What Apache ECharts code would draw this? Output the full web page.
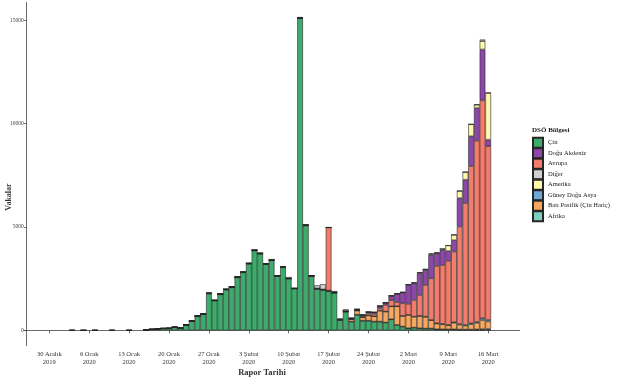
<!DOCTYPE html>
<html><head><meta charset="utf-8">
<script src="https://cdn.jsdelivr.net/npm/echarts@6/dist/echarts.min.js"></script>
<style>html,body{margin:0;padding:0;background:#fff}#c{width:642px;height:389px}</style>
</head><body><div id="c"></div>
<script>
// Report dates (days with a bar)
const dates = ['2020-01-03','2020-01-05','2020-01-07','2020-01-10','2020-01-13',
'2020-01-16','2020-01-17','2020-01-18','2020-01-19','2020-01-20','2020-01-21','2020-01-22','2020-01-23','2020-01-24','2020-01-25','2020-01-26','2020-01-27','2020-01-28','2020-01-29','2020-01-30','2020-01-31',
'2020-02-01','2020-02-02','2020-02-03','2020-02-04','2020-02-05','2020-02-06','2020-02-07','2020-02-08','2020-02-09','2020-02-10','2020-02-11','2020-02-12','2020-02-13','2020-02-14','2020-02-15','2020-02-16','2020-02-17','2020-02-18','2020-02-19','2020-02-20','2020-02-21','2020-02-22','2020-02-23','2020-02-24','2020-02-25','2020-02-26','2020-02-27','2020-02-28','2020-02-29',
'2020-03-01','2020-03-02','2020-03-03','2020-03-04','2020-03-05','2020-03-06','2020-03-07','2020-03-08','2020-03-09','2020-03-10','2020-03-11','2020-03-12','2020-03-13','2020-03-14','2020-03-15','2020-03-16'];

const cin = [0,0,0,0,0,
30,50,70,95,100,150,120,260,450,680,780,1780,1440,1740,1970,2080,
2560,2800,3220,3860,3700,3200,3380,2630,3050,2500,2020,15090,5070,2620,2000,1960,1900,1810,500,900,425,760,470,470,425,425,380,540,265,
185,105,135,105,90,90,55,50,45,40,30,25,20,20,20,30];

const afrika = [0,0,0,0,0,
0,0,0,0,0,0,0,0,0,0,0,0,0,0,0,0,
0,0,0,0,0,0,0,0,0,0,0,0,0,0,0,0,0,0,0,0,0,0,0,0,0,0,0,0,0,
0,0,0,0,0,0,0,0,0,10,10,15,20,30,40,40];

const batiPasifik = [0,0,0,0,0,
0,0,0,0,0,3,2,5,10,10,10,15,12,20,15,20,
20,15,20,15,25,30,25,20,35,15,10,15,20,20,30,20,25,30,30,40,120,200,170,250,260,530,530,620,900,
515,645,530,595,565,405,270,245,205,320,240,190,260,315,440,360];

const guneyDoguAsya = [0,0,0,0,0,
0,0,0,0,0,0,0,0,0,0,0,0,0,0,0,0,
0,0,0,0,0,0,0,0,0,0,0,0,0,0,0,0,0,0,0,0,0,0,0,0,0,0,0,0,0,
0,0,0,0,10,10,20,20,15,20,30,40,45,45,90,75];

const avrupa = [0,0,0,0,0,
0,0,0,0,0,0,0,0,0,0,0,0,0,0,0,0,
0,0,0,0,0,0,0,0,0,0,0,0,0,0,0,0,3050,0,0,0,20,30,60,100,110,115,320,300,200,
610,530,805,1010,1530,2010,2765,2845,3100,3420,4710,5885,7600,8760,10530,8395];

const doguAkdeniz = [0,0,0,0,0,
0,0,0,0,0,0,0,0,0,0,0,0,0,0,0,0,
0,0,0,0,0,0,0,0,0,0,0,0,0,0,0,0,0,0,0,0,25,30,50,70,80,110,110,200,400,
515,915,805,1045,720,1125,610,720,470,550,1370,1130,1440,1580,2460,320];

const amerika = [0,0,0,0,0,
0,0,0,0,0,0,0,0,0,0,0,0,0,0,0,0,
0,0,0,0,0,0,0,0,0,0,0,0,0,0,0,0,0,0,0,0,0,0,0,0,0,0,0,20,10,
20,20,30,40,40,50,30,60,270,260,350,370,580,160,400,2260];

const diger = [0,0,0,0,0,
0,0,0,0,0,0,0,0,0,0,0,0,0,0,0,0,
0,0,0,0,0,0,40,0,6,60,0,40,44,0,150,250,0,60,40,80,0,0,0,0,0,0,0,0,0,
0,0,0,0,0,30,0,0,0,0,0,0,0,0,80,0];

const tickDates = ['2019-12-30','2020-01-06','2020-01-13','2020-01-20','2020-01-27','2020-02-03','2020-02-10','2020-02-17','2020-02-24','2020-03-02','2020-03-09','2020-03-16'];
const tickLabels = ['30 Aralık\n2019','6 Ocak\n2020','13 Ocak\n2020','20 Ocak\n2020','27 Ocak\n2020','3 Şubat\n2020','10 Şubat\n2020','17 Şubat\n2020','24 Şubat\n2020','2 Mart\n2020','9 Mart\n2020','16 Mart\n2020'];
const yTicks = [0,5000,10000,15000];
const axisStart = '2019-12-26', axisEnd = '2020-03-21';

// build the daily axis domain
const toUTC = d => { const p = d.split('-').map(Number); return Date.UTC(p[0],p[1]-1,p[2]); };
const fmt = t => new Date(t).toISOString().slice(0,10);
const axisDays = [];
for (let t = toUTC(axisStart); t <= toUTC(axisEnd); t += 86400000) axisDays.push(fmt(t));
const posOf = {}; dates.forEach((d,i) => posOf[d] = i);

const FONT = 'Liberation Serif';
const stackDefs = [
  ['Çin', cin, '#3DAB6B'],
  ['Afrika', afrika, '#7FCFBF'],
  ['Batı Pasifik (Çin Hariç)', batiPasifik, '#F7A85E'],
  ['Güney Doğu Asya', guneyDoguAsya, '#6FA8D8'],
  ['Avrupa', avrupa, '#F47C6C'],
  ['Doğu Akdeniz', doguAkdeniz, '#8D47A9'],
  ['Amerika', amerika, '#FFF9B0'],
  ['Diğer', diger, '#CFCFCF']
];
const legendOrder = ['Çin','Doğu Akdeniz','Avrupa','Diğer','Amerika','Güney Doğu Asya','Batı Pasifik (Çin Hariç)','Afrika'];

const series = stackDefs.map(([name, arr, color]) => ({
  name, type: 'bar', stack: 'all',
  barCategoryGap: '0%',
  data: axisDays.map(d => (d in posOf) ? arr[posOf[d]] : null),
  itemStyle: { color, borderColor: '#262626', borderWidth: 0.6 },
  emphasis: { disabled: true },
  animation: false
}));

const chart = echarts.init(document.getElementById('c'), null, { renderer: 'canvas' });
chart.setOption({
  backgroundColor: '#fff',
  animation: false,
  grid: { left: 23.65, right: 122.45, top: 2.5, bottom: 43.3, containLabel: false },
  xAxis: {
    type: 'category', data: axisDays, boundaryGap: true,
    splitLine: { show: false },
    axisLine: { show: true, lineStyle: { color: '#444', width: 0.8 } },
    axisTick: { show: true, alignWithLabel: true, length: 3, lineStyle: { color: '#444', width: 0.8 },
      interval: (i, v) => tickDates.includes(v) },
    axisLabel: { margin: 5, fontFamily: FONT, fontSize: 6.5, lineHeight: 8, color: '#333',
      interval: (i, v) => tickDates.includes(v),
      formatter: v => tickLabels[tickDates.indexOf(v)] || '' }
  },
  yAxis: {
    type: 'value', min: -740, max: 15850, offset: -3,
    splitLine: { show: false },
    axisLine: { show: true, lineStyle: { color: '#444', width: 0.8 } },
    axisTick: { show: true, customValues: yTicks, length: 2.5, lineStyle: { color: '#444', width: 0.8 } },
    axisLabel: { customValues: yTicks, margin: 3, fontFamily: FONT, fontSize: 5.5, color: '#444', formatter: v => String(v) }
  },
  legend: {
    data: legendOrder, orient: 'vertical', left: 532, top: 136.7, padding: 0,
    itemWidth: 10, itemHeight: 10, itemGap: -1.5, icon: 'rect',
    textStyle: { fontFamily: FONT, fontSize: 6.5, lineHeight: 10, color: '#222' },
    selectedMode: false
  },
  title: { text: 'DSÖ Bölgesi', left: 532, top: 126.5, padding: 0, textStyle: { fontFamily: FONT, fontSize: 7, fontWeight: 'bold', color: '#222' } },
  graphic: [
    { type: 'text', x: 262, y: 373, style: { text: 'Rapor Tarihi', font: 'bold 8.5px "Liberation Serif"', fill: '#333', align: 'center', verticalAlign: 'middle' } },
    { type: 'text', x: 8.5, y: 197, rotation: Math.PI/2, style: { text: 'Vakalar', font: 'bold 8px "Liberation Serif"', fill: '#333', align: 'center', verticalAlign: 'middle' } }
  ],
  series
});
</script>
</body></html>
